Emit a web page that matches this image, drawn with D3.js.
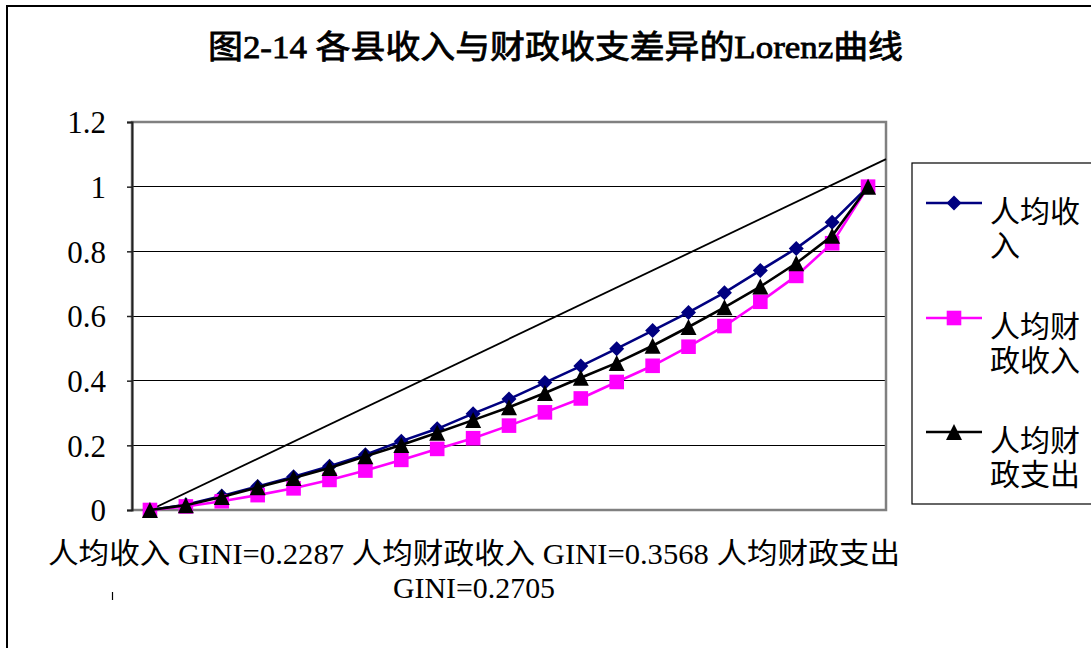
<!DOCTYPE html>
<html><head><meta charset="utf-8">
<script src="https://cdn.jsdelivr.net/npm/d3@7/dist/d3.min.js"></script>
<style>body{margin:0;background:#fff;overflow:hidden} svg{display:block}</style>
</head><body><svg id="c" width="1091" height="648"></svg>
<script>
// ---- data ----
const categories = ["1","2","3","4","5","6","7","8","9","10","11","12","13","14","15","16","17","18","19","20","21"];
const incomePerCapita   = [0, 0.016, 0.043, 0.073, 0.103, 0.135, 0.171, 0.213, 0.251, 0.298, 0.343, 0.394, 0.445, 0.499, 0.555, 0.611, 0.672, 0.741, 0.809, 0.890, 1.0];
const fiscalRevenue     = [0, 0.011, 0.027, 0.046, 0.067, 0.093, 0.122, 0.155, 0.189, 0.222, 0.261, 0.302, 0.345, 0.396, 0.446, 0.505, 0.569, 0.644, 0.724, 0.825, 1.0];
const fiscalExpenditure = [0, 0.015, 0.040, 0.070, 0.099, 0.130, 0.166, 0.201, 0.239, 0.278, 0.318, 0.362, 0.409, 0.455, 0.508, 0.566, 0.627, 0.691, 0.763, 0.848, 1.0];
const equalityLine = [{i: 0, v: 0}, {i: 20.5, v: 1.085}];
const seriesNames = [["人均收", "入"], ["人均财", "政收入"], ["人均财", "政支出"]];
const yTicks = [0, 0.2, 0.4, 0.6, 0.8, 1, 1.2];
const yTickLabels = ["0", "0.2", "0.4", "0.6", "0.8", "1", "1.2"];
const title = "图2-14 各县收入与财政收支差异的Lorenz曲线";
const xTitleLines = ["人均收入 GINI=0.2287 人均财政收入 GINI=0.3568 人均财政支出", "GINI=0.2705"];

// ---- layout ----
const plot = {l: 132, r: 886, t: 122, b: 510};
const FONT = "'Liberation Serif','Noto Sans CJK SC',serif";
const svg = d3.select("#c");

// chart border
svg.append("rect").attr("x", 7).attr("y", 6).attr("width", 1200).attr("height", 800)
  .attr("fill", "#fff").attr("stroke", "#000").attr("stroke-width", 2);

const x = d3.scaleBand().domain(categories).range([plot.l, plot.r]).paddingInner(0).paddingOuter(0);
const xi = d3.scaleLinear().domain([-0.5, categories.length - 0.5]).range([plot.l, plot.r]);
const y = d3.scaleLinear().domain([0, 1.2]).range([plot.b, plot.t]);
const cx = (i) => x(categories[i]) + x.bandwidth() / 2;

// gridlines
svg.append("g").selectAll("line").data(yTicks.filter(d => d > 0)).join("line")
  .attr("x1", plot.l).attr("x2", plot.r).attr("y1", d => y(d)).attr("y2", d => y(d))
  .attr("stroke", "#000").attr("stroke-width", 1).attr("shape-rendering", "crispEdges");

// plot border
svg.append("rect").attr("x", plot.l).attr("y", plot.t).attr("width", plot.r - plot.l).attr("height", plot.b - plot.t)
  .attr("fill", "none").attr("stroke", "#808080").attr("stroke-width", 2.5);

// y axis
const yAxis = d3.axisLeft(y).tickValues(yTicks).tickFormat((d, i) => yTickLabels[i]).tickSize(5).tickPadding(21);
const ya = svg.append("g").attr("transform", `translate(${plot.l},0)`).call(yAxis);
ya.select(".domain").attr("stroke", "#222").attr("stroke-width", 2);
ya.selectAll(".tick line").attr("stroke", "#222").attr("stroke-width", 1.5);
ya.selectAll(".tick text").attr("font-family", FONT).attr("font-size", 31).attr("fill", "#000").attr("dy", "0.35em");

// equality line
svg.append("path").datum(equalityLine)
  .attr("d", d3.line().x(d => xi(d.i)).y(d => y(d.v)))
  .attr("fill", "none").attr("stroke", "#000").attr("stroke-width", 1.8);

// markers
const diamond = (s) => `M0,${-s}L${s},0L0,${s}L${-s},0Z`;
const square = (s) => `M${-s},${-s}H${s}V${s}H${-s}Z`;
const triangle = (s) => `M0,${-s}L${s},${s}L${-s},${s}Z`;

const series = [
  {values: incomePerCapita, color: "#000080", marker: diamond(7.5)},
  {values: fiscalRevenue, color: "#FF00FF", marker: square(7.3)},
  {values: fiscalExpenditure, color: "#000000", marker: triangle(8)}
];

const line = d3.line().x((d, i) => cx(i)).y(d => y(d));
series.forEach(s => {
  const g = svg.append("g");
  g.append("path").datum(s.values).attr("d", line)
    .attr("fill", "none").attr("stroke", s.color).attr("stroke-width", 2.6);
  g.selectAll("path.m").data(s.values).join("path").attr("class", "m")
    .attr("d", s.marker).attr("transform", (d, i) => `translate(${cx(i)},${y(d)})`)
    .attr("fill", s.color);
});

// title
svg.append("text").attr("x", 555.5).attr("y", 58).attr("text-anchor", "middle")
  .attr("font-family", FONT).attr("font-size", 32).attr("font-weight", 400)
  .attr("stroke", "#000").attr("stroke-width", 0.8)
  .attr("textLength", 695).attr("lengthAdjust", "spacingAndGlyphs").text(title);

// x axis title
svg.append("text").attr("x", 474).attr("y", 564).attr("text-anchor", "middle")
  .attr("font-family", FONT).attr("font-size", 29)
  .attr("textLength", 852).attr("lengthAdjust", "spacingAndGlyphs").text(xTitleLines[0]);
svg.append("text").attr("x", 474).attr("y", 598).attr("text-anchor", "middle")
  .attr("font-family", FONT).attr("font-size", 29)
  .attr("textLength", 162).attr("lengthAdjust", "spacingAndGlyphs").text(xTitleLines[1]);
svg.append("line").attr("x1", 112.5).attr("x2", 112.5).attr("y1", 592).attr("y2", 600)
  .attr("stroke", "#000").attr("stroke-width", 1.2);

// legend
const lg = svg.append("g");
lg.append("rect").attr("x", 912).attr("y", 163).attr("width", 300).attr("height", 341)
  .attr("fill", "#fff").attr("stroke", "#000").attr("stroke-width", 1.2);
const legendY = [203, 318, 432];
series.forEach((s, k) => {
  const yy = legendY[k];
  lg.append("line").attr("x1", 926).attr("x2", 982).attr("y1", yy).attr("y2", yy)
    .attr("stroke", s.color).attr("stroke-width", 2.6);
  lg.append("path").attr("d", s.marker).attr("transform", `translate(954,${yy})`).attr("fill", s.color);
  const t = lg.append("text").attr("font-family", FONT).attr("font-size", 30).attr("fill", "#000");
  seriesNames[k].forEach((ln, j) => {
    t.append("tspan").attr("x", 990).attr("y", yy + 19 + j * 34).text(ln);
  });
});
</script></body></html>
